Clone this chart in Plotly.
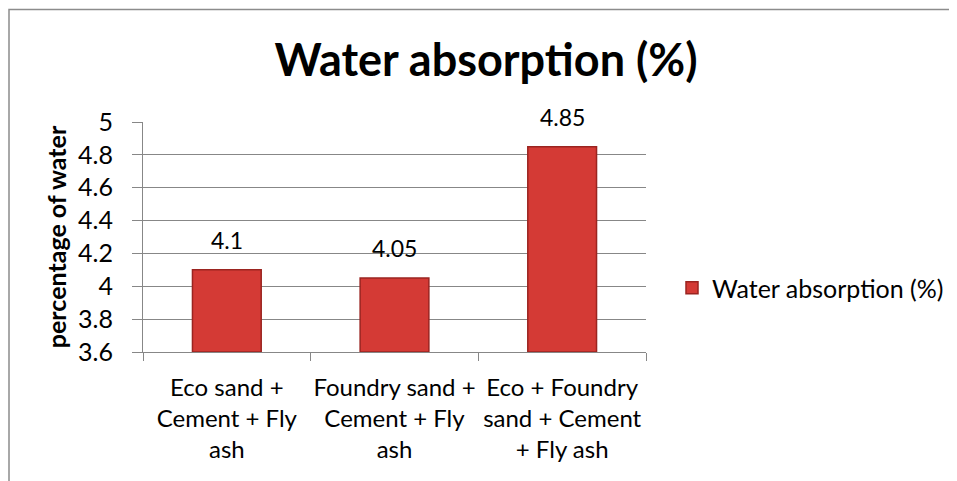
import plotly.graph_objects as go

categories = ["Eco sand +<br>Cement + Fly<br>ash",
              "Foundry sand +<br>Cement + Fly<br>ash",
              "Eco + Foundry<br>sand + Cement<br>+ Fly ash"]
values = [4.1, 4.05, 4.85]
value_labels = ["4.1", "4.05", "4.85"]
series_name = "Water absorption (%)"
axis_min = 3.6
y_ticks = [3.6, 3.8, 4.0, 4.2, 4.4, 4.6, 4.8, 5.0]
y_tick_labels = ["3.6", "3.8", "4", "4.2", "4.4", "4.6", "4.8", "5"]

FONT = "Lato, Carlito, Calibri, sans-serif"
OFF = 8  # page body margin
W, H = 957 - OFF, 481 - OFF
# target page coordinates of the plot area
PX0, PX1, PY0, PY1 = 143, 646, 122, 352
L, T = PX0 - OFF, PY0 - OFF
R, B = W - (PX1 - OFF), H - (PY1 - OFF)
pw, ph = W - L - R, H - T - B


def px(xpage):
    return (xpage - PX0) / (PX1 - PX0)


def py(ypage):
    return (PY1 - ypage) / (PY1 - PY0)


fig = go.Figure()
fig.add_trace(go.Bar(
    x=categories, y=[v - axis_min for v in values], base=axis_min, name=series_name,
    marker=dict(color="#D43A35", line=dict(color="#9B2420", width=1.5)),
    hoverinfo="skip",
))

for c, v, t in zip(categories, values, value_labels):
    fig.add_annotation(x=c, y=v, text=t, showarrow=False, yanchor="bottom",
                       yshift=14, font=dict(size=23, color="#000", family=FONT))

fig.add_shape(type="rect", xref="paper", yref="paper",
              x0=px(9), x1=px(1000), y0=-0.8, y1=py(9.5),
              line=dict(color="#8c8c8c", width=1.5), fillcolor="rgba(0,0,0,0)", layer="below")

fig.update_layout(
    width=W, height=H,
    margin=dict(l=L, r=R, t=T, b=B, autoexpand=False),
    paper_bgcolor="white", plot_bgcolor="white",
    bargap=0.59,
    font=dict(family=FONT, size=23, color="#000"),
    title=dict(text="<b>Water absorption (%)</b>", x=(486 - OFF) / W, xanchor="center",
               y=1 - (60.5 - OFF) / H, yanchor="middle",
               font=dict(size=45, family=FONT, color="#000")),
    showlegend=True,
    legend=dict(x=px(672), xanchor="left", y=py(288), yanchor="middle",
                font=dict(size=25, family=FONT, color="#000"), bgcolor="rgba(0,0,0,0)",
                itemwidth=30),
    xaxis=dict(showline=True, linecolor="#878787", linewidth=1, ticks="outside",
               tickson="boundaries", ticklen=8, tickcolor="#878787",
               ticklabelstandoff=14, tickangle=0,
               tickfont=dict(size=24, family=FONT, color="#000"), showgrid=False),
    yaxis=dict(range=[3.6, 5.0], tickvals=y_ticks, ticktext=y_tick_labels,
               showline=True, linecolor="#878787", linewidth=1, ticks="outside",
               ticklen=10, tickcolor="#878787", showgrid=True, gridcolor="#878787",
               gridwidth=1, zeroline=False, ticklabelstandoff=14,
               tickfont=dict(size=25, family=FONT, color="#000"),
               title=dict(text="<b>percentage of water</b>", standoff=4,
                          font=dict(size=25, family=FONT, color="#000"))),
)

fig.write_html("out.html")
